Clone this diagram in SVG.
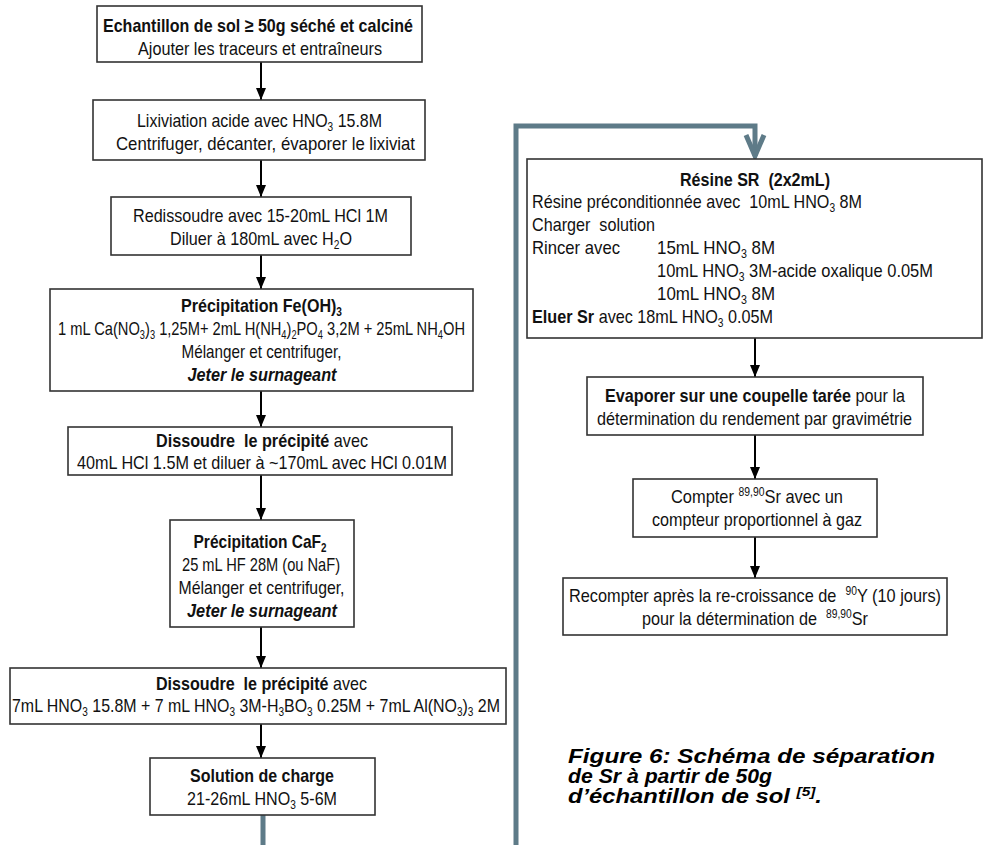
<svg xmlns="http://www.w3.org/2000/svg" width="987" height="845" viewBox="0 0 987 845">
<defs>
<style>
.t{font-family:"Liberation Sans",Arial,sans-serif;font-size:19px;fill:#111;white-space:pre}
.c{text-anchor:middle}
.b{font-weight:bold}
.bi{font-weight:bold;font-style:italic}
.s{font-size:12px}
.box{fill:#fff;stroke:#333;stroke-width:1.6}
.arr{stroke:#000;stroke-width:2;fill:none;marker-end:url(#ah)}
.grey{stroke:#5e7b88;stroke-width:5;fill:none}
.cap{font-family:"Liberation Sans",Arial,sans-serif;font-size:20px;font-weight:bold;font-style:italic;fill:#000}
</style>
<marker id="ah" markerUnits="userSpaceOnUse" markerWidth="12" markerHeight="12" refX="12" refY="5" orient="auto">
<path d="M0,0 L12,5 L0,10 z" fill="#000"/>
</marker>
</defs>
<rect width="987" height="845" fill="#fff"/>

<g id="connectors">
<line class="arr" x1="261" y1="62" x2="261" y2="100"/>
<line class="arr" x1="261" y1="160" x2="261" y2="197"/>
<line class="arr" x1="261" y1="255" x2="261" y2="289"/>
<line class="arr" x1="261" y1="391" x2="261" y2="427"/>
<line class="arr" x1="261" y1="475" x2="261" y2="520"/>
<line class="arr" x1="261" y1="627" x2="261" y2="668"/>
<line class="arr" x1="261" y1="724" x2="261" y2="758"/>
<path class="grey" d="M263,815 V870 H516 V126 H755 V156"/>
<path class="grey" d="M746,135 L755,156 L764,135" stroke-linejoin="miter"/>
<line class="arr" x1="755" y1="338" x2="755" y2="377"/>
<line class="arr" x1="755" y1="435" x2="755" y2="479"/>
<line class="arr" x1="755" y1="537" x2="755" y2="578"/>
</g>

<g id="n1">
<rect class="box" x="97" y="6" width="325" height="56"/>
<text class="t c b" x="258" y="32" textLength="310" lengthAdjust="spacingAndGlyphs">Echantillon de sol ≥ 50g séché et calciné</text>
<text class="t c" x="260" y="55" textLength="244" lengthAdjust="spacingAndGlyphs">Ajouter les traceurs et entraîneurs</text>
</g>

<g id="n2">
<rect class="box" x="93" y="100" width="332" height="60"/>
<text class="t c" x="259.5" y="127" textLength="245" lengthAdjust="spacingAndGlyphs">Lixiviation acide avec HNO<tspan class="s" dy="4">3</tspan><tspan dy="-4"> 15.8M</tspan></text>
<text class="t c" x="265.5" y="150" textLength="299" lengthAdjust="spacingAndGlyphs">Centrifuger, décanter, évaporer le lixiviat</text>
</g>

<g id="n3">
<rect class="box" x="111" y="197" width="300" height="58"/>
<text class="t c" x="260.5" y="222" textLength="255" lengthAdjust="spacingAndGlyphs">Redissoudre avec 15-20mL HCl 1M</text>
<text class="t c" x="261" y="245" textLength="182" lengthAdjust="spacingAndGlyphs">Diluer à 180mL avec H<tspan class="s" dy="4">2</tspan><tspan dy="-4">O</tspan></text>
</g>

<g id="n4">
<rect class="box" x="50" y="289" width="423" height="102"/>
<text class="t c b" x="261.5" y="312" textLength="161" lengthAdjust="spacingAndGlyphs">Précipitation Fe(OH)<tspan class="s" dy="4">3</tspan></text>
<text class="t c" x="261.5" y="335" textLength="407" lengthAdjust="spacingAndGlyphs">1 mL Ca(NO<tspan class="s" dy="4">3</tspan><tspan dy="-4">)</tspan><tspan class="s" dy="4">3</tspan><tspan dy="-4"> 1,25M+ 2mL H(NH</tspan><tspan class="s" dy="4">4</tspan><tspan dy="-4">)</tspan><tspan class="s" dy="4">2</tspan><tspan dy="-4">PO</tspan><tspan class="s" dy="4">4</tspan><tspan dy="-4"> 3,2M + 25mL NH</tspan><tspan class="s" dy="4">4</tspan><tspan dy="-4">OH</tspan></text>
<text class="t c" x="261.5" y="358" textLength="160" lengthAdjust="spacingAndGlyphs">Mélanger et centrifuger,</text>
<text class="t c bi" x="262" y="381" textLength="149" lengthAdjust="spacingAndGlyphs">Jeter le surnageant</text>
</g>

<g id="n5">
<rect class="box" x="68" y="427" width="384" height="48"/>
<text class="t c" x="262" y="447" textLength="212" lengthAdjust="spacingAndGlyphs"><tspan class="b">Dissoudre  le précipité</tspan> avec</text>
<text class="t c" x="262" y="469" textLength="370" lengthAdjust="spacingAndGlyphs">40mL HCl 1.5M et diluer à ~170mL avec HCl 0.01M</text>
</g>

<g id="n6">
<rect class="box" x="170" y="520" width="184" height="107"/>
<text class="t c b" x="260" y="548" textLength="133" lengthAdjust="spacingAndGlyphs">Précipitation CaF<tspan class="s" dy="4">2</tspan></text>
<text class="t c" x="261" y="571" textLength="158" lengthAdjust="spacingAndGlyphs">25 mL HF 28M (ou NaF)</text>
<text class="t c" x="261.5" y="594" textLength="166" lengthAdjust="spacingAndGlyphs">Mélanger et centrifuger,</text>
<text class="t c bi" x="262" y="617" textLength="150" lengthAdjust="spacingAndGlyphs">Jeter le surnageant</text>
</g>

<g id="n7">
<rect class="box" x="10" y="668" width="496" height="56"/>
<text class="t c" x="261.5" y="690" textLength="211" lengthAdjust="spacingAndGlyphs"><tspan class="b">Dissoudre  le précipité</tspan> avec</text>
<text class="t c" x="256" y="712" textLength="488" lengthAdjust="spacingAndGlyphs">7mL HNO<tspan class="s" dy="4">3</tspan><tspan dy="-4"> 15.8M + 7 mL HNO</tspan><tspan class="s" dy="4">3</tspan><tspan dy="-4"> 3M-H</tspan><tspan class="s" dy="4">3</tspan><tspan dy="-4">BO</tspan><tspan class="s" dy="4">3</tspan><tspan dy="-4"> 0.25M + 7mL Al(NO</tspan><tspan class="s" dy="4">3</tspan><tspan dy="-4">)</tspan><tspan class="s" dy="4">3</tspan><tspan dy="-4"> 2M</tspan></text>
</g>

<g id="n8">
<rect class="box" x="150" y="758" width="225" height="57"/>
<text class="t c b" x="262" y="782" textLength="144" lengthAdjust="spacingAndGlyphs">Solution de charge</text>
<text class="t c" x="262" y="805" textLength="150" lengthAdjust="spacingAndGlyphs">21-26mL HNO<tspan class="s" dy="4">3</tspan><tspan dy="-4"> 5-6M</tspan></text>
</g>

<g id="n9">
<rect class="box" x="527" y="159" width="455" height="179"/>
<text class="t c b" x="755" y="186" textLength="150" lengthAdjust="spacingAndGlyphs">Résine SR  (2x2mL)</text>
<text class="t" x="532" y="208" textLength="330" lengthAdjust="spacingAndGlyphs">Résine préconditionnée avec  10mL HNO<tspan class="s" dy="4">3</tspan><tspan dy="-4"> 8M</tspan></text>
<text class="t" x="532" y="231" textLength="123" lengthAdjust="spacingAndGlyphs">Charger  solution</text>
<text class="t" x="532" y="254" textLength="88" lengthAdjust="spacingAndGlyphs">Rincer avec</text>
<text class="t" x="657" y="254" textLength="118" lengthAdjust="spacingAndGlyphs">15mL HNO<tspan class="s" dy="4">3</tspan><tspan dy="-4"> 8M</tspan></text>
<text class="t" x="657" y="277" textLength="276" lengthAdjust="spacingAndGlyphs">10mL HNO<tspan class="s" dy="4">3</tspan><tspan dy="-4"> 3M-acide oxalique 0.05M</tspan></text>
<text class="t" x="657" y="300" textLength="118" lengthAdjust="spacingAndGlyphs">10mL HNO<tspan class="s" dy="4">3</tspan><tspan dy="-4"> 8M</tspan></text>
<text class="t" x="532" y="323" textLength="241" lengthAdjust="spacingAndGlyphs"><tspan class="b">Eluer Sr</tspan> avec 18mL HNO<tspan class="s" dy="4">3</tspan><tspan dy="-4"> 0.05M</tspan></text>
</g>

<g id="n10">
<rect class="box" x="587" y="377" width="336" height="58"/>
<text class="t c" x="755" y="402" textLength="300" lengthAdjust="spacingAndGlyphs"><tspan class="b">Evaporer sur une coupelle tarée</tspan> pour la</text>
<text class="t c" x="754.5" y="425" textLength="315" lengthAdjust="spacingAndGlyphs">détermination du rendement par gravimétrie</text>
</g>

<g id="n11">
<rect class="box" x="633" y="479" width="244" height="58"/>
<text class="t c" x="757" y="503" textLength="172" lengthAdjust="spacingAndGlyphs">Compter <tspan class="s" dy="-7">89,90</tspan><tspan dy="7">Sr avec un</tspan></text>
<text class="t c" x="757" y="526" textLength="210" lengthAdjust="spacingAndGlyphs">compteur proportionnel à gaz</text>
</g>

<g id="n12">
<rect class="box" x="563" y="578" width="384" height="57"/>
<text class="t c" x="755" y="602" textLength="372" lengthAdjust="spacingAndGlyphs">Recompter après la re-croissance de  <tspan class="s" dy="-7">90</tspan><tspan dy="7">Y (10 jours)</tspan></text>
<text class="t c" x="755" y="625" textLength="226" lengthAdjust="spacingAndGlyphs">pour la détermination de  <tspan class="s" dy="-7">89,90</tspan><tspan dy="7">Sr</tspan></text>
</g>

<g id="caption">
<text class="cap" x="568" y="763" textLength="367" lengthAdjust="spacingAndGlyphs">Figure 6: Schéma de séparation</text>
<text class="cap" x="568" y="783" textLength="204" lengthAdjust="spacingAndGlyphs">de Sr à partir de 50g</text>
<text class="cap" x="568" y="803" textLength="254" lengthAdjust="spacingAndGlyphs">d’échantillon de sol <tspan font-size="13" dy="-7">[5]</tspan><tspan dy="7">.</tspan></text>
</g>
</svg>
